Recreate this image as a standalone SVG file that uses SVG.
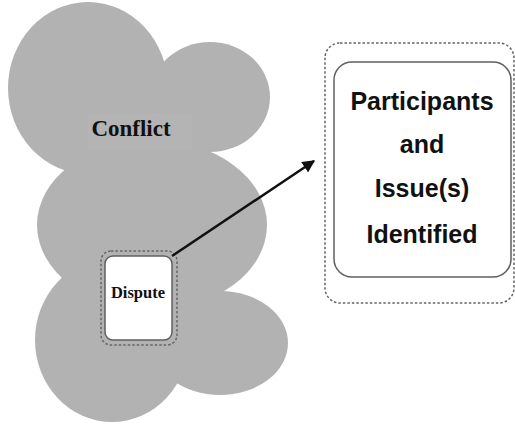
<svg xmlns="http://www.w3.org/2000/svg" width="515" height="427" viewBox="0 0 515 427">
<defs>
<style>
.cloud{fill:#b2b2b2;stroke:none}
.dash{fill:none;stroke:#666;stroke-width:1.5;stroke-dasharray:2.5 2}
.solid{fill:#fff;stroke:#606060;stroke-width:1.5}
.serif{font-family:"Liberation Serif","Times New Roman",serif;font-weight:bold;fill:#111;text-anchor:middle}
.sans{font-family:"Liberation Sans",Arial,sans-serif;font-weight:bold;fill:#111;text-anchor:middle;font-size:25px}
</style>
<marker id="ah" viewBox="0 0 10 10" refX="9" refY="5" markerWidth="5" markerHeight="5" orient="auto" markerUnits="strokeWidth">
<path d="M0,0 L10,5 L0,10 z" fill="#111"/>
</marker>
</defs>
<rect width="515" height="427" fill="#fff"/>
<g id="conflict">
<ellipse class="cloud" cx="88" cy="88" rx="80" ry="86"/>
<ellipse class="cloud" cx="210" cy="97" rx="60" ry="55"/>
<ellipse class="cloud" cx="152" cy="225" rx="115" ry="85"/>
<ellipse class="cloud" cx="112" cy="340" rx="77" ry="82"/>
<ellipse class="cloud" cx="220" cy="343" rx="68" ry="52"/>
<rect x="88" y="113" width="104" height="37" fill="#b4b4b4"/>
<text class="serif" x="131" y="136" font-size="23">Conflict</text>
</g>
<g id="dispute">
<rect class="dash" x="101" y="251" width="76" height="94" rx="10"/>
<rect class="solid" x="105" y="256" width="67" height="84" rx="8"/>
<text class="serif" x="138" y="298" font-size="16.5">Dispute</text>
</g>
<g id="connectors">
<line x1="172" y1="256" x2="314" y2="161" stroke="#111" stroke-width="2.5" marker-end="url(#ah)"/>
</g>
<g id="identified">
<rect class="dash" x="325" y="43" width="189" height="260" rx="15"/>
<rect class="solid" x="334" y="62" width="177" height="215" rx="18"/>
<text class="sans" x="422" y="110">Participants</text>
<text class="sans" x="422" y="153">and</text>
<text class="sans" x="422" y="197">Issue(s)</text>
<text class="sans" x="422" y="243">Identified</text>
</g>
</svg>
